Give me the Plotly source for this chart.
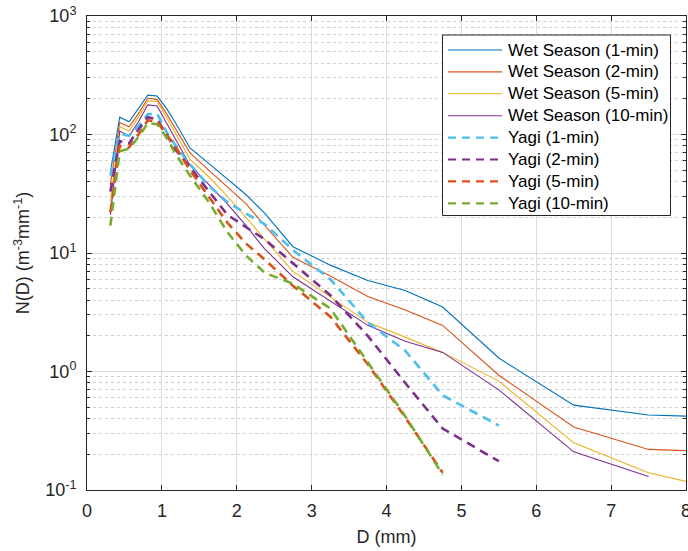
import plotly.graph_objects as go

D = [0.312, 0.437, 0.562, 0.687, 0.812, 0.937, 1.062, 1.187, 1.375, 1.625, 1.875,
     2.125, 2.375, 2.75, 3.25, 3.75, 4.25, 4.75, 5.5, 6.5, 7.5, 8.5]

wet_1min = [48, 140, 128, 165, 215, 211, 166, 124, 77, 57, 42, 31, 21.6, 11.3, 7.9, 5.86, 4.83, 3.5, 1.3, 0.52, 0.43, 0.41]
wet_2min = [38, 126, 116, 150, 202, 198, 150, 110, 70, 50, 36, 26, 17, 9.2, 6.4, 4.3, 3.3, 2.45, 0.93, 0.34, 0.22, 0.21]
wet_5min = [27, 116, 107, 140, 192, 190, 140, 100, 62, 44, 30, 20, 13, 7.0, 4.3, 2.6, 1.95, 1.45, 0.83, 0.25, 0.14, 0.10]
wet_10min = [21, 107, 97, 128, 178, 174, 125, 90, 55, 38, 26, 17, 10.8, 6.3, 3.9, 2.45, 1.8, 1.45, 0.7, 0.21, 0.13]

yagi_1min = [45, 100, 98, 118, 148, 150, 105, 80, 56, 37, 27, 21.5, 17.5, 10.6, 6.0, 2.6, 1.5, 0.63, 0.35]
yagi_2min = [33, 88, 84, 110, 140, 134, 100, 74, 53, 33, 21, 16.5, 13, 8.2, 4.4, 2.0, 0.8, 0.33, 0.175]
yagi_5min = [22, 80, 78, 100, 132, 128, 100, 78, 50, 30, 18, 12, 8.8, 5.3, 2.9, 1.15, 0.41, 0.14]
yagi_10min = [17, 72, 76, 95, 125, 122, 94, 68, 45, 27, 15, 9.5, 6.8, 5.5, 3.4, 1.2, 0.42, 0.135]

wet_names = ["Wet Season (1-min)", "Wet Season (2-min)", "Wet Season (5-min)", "Wet Season (10-min)"]
yagi_names = ["Yagi (1-min)", "Yagi (2-min)", "Yagi (5-min)", "Yagi (10-min)"]

x_ticks = [0, 1, 2, 3, 4, 5, 6, 7, 8]
y_ticks = [0.1, 1, 10, 100, 1000]
y_tick_text = ["10<sup>-1</sup>", "10<sup>0</sup>", "10<sup>1</sup>", "10<sup>2</sup>", "10<sup>3</sup>"]

wet_colors = ["#0072BD", "#D95319", "#EDB120", "#7E2F8E"]
yagi_colors = ["#4DBEEE", "#7E2F8E", "#D95319", "#77AC30"]
WET_W, YAGI_W, YAGI_DASH = 1.1, 2.6, "9px,6px"

fig = go.Figure()
for name, vals, c in zip(wet_names, [wet_1min, wet_2min, wet_5min, wet_10min], wet_colors):
    fig.add_trace(go.Scatter(x=D[:len(vals)], y=vals, mode="lines", name=name,
                             line=dict(color=c, width=WET_W), showlegend=False))
for name, vals, c in zip(yagi_names, [yagi_1min, yagi_2min, yagi_5min, yagi_10min], yagi_colors):
    fig.add_trace(go.Scatter(x=D[:len(vals)], y=vals, mode="lines", name=name,
                             line=dict(color=c, width=YAGI_W, dash=YAGI_DASH), showlegend=False))

minor_vals = []
for k in range(-1, 3):
    for m in range(2, 10):
        minor_vals.append(m * 10 ** k)

font_family = "Liberation Sans, Arial, sans-serif"
axis_color = "#262626"

# plot-area geometry in pixels (for legend placement)
W, H = 688, 551
ML, MR, MT, MB = 87, 2, 16, 61
PW, PH = W - ML - MR, H - MT - MB


def px(xp):
    return (xp - ML) / PW


def py(yp):
    return (H - MB - yp) / PH


# custom legend, MATLAB style
shapes = [dict(type="rect", xref="paper", yref="paper",
               x0=px(442.5), x1=px(670.5), y0=py(215.5), y1=py(35),
               fillcolor="white", line=dict(color=axis_color, width=1), layer="above")]
annotations = []
entries = ([(n, c, WET_W, "solid") for n, c in zip(wet_names, wet_colors)] +
           [(n, c, YAGI_W, YAGI_DASH) for n, c in zip(yagi_names, yagi_colors)])
for i, (name, col, w, dash) in enumerate(entries):
    yc = 50 + 21.9 * i
    shapes.append(dict(type="line", xref="paper", yref="paper",
                       x0=px(448), x1=px(502), y0=py(yc), y1=py(yc),
                       line=dict(color=col, width=w if dash == "solid" else 2.2,
                                 dash=dash if dash == "solid" else "8px,6px"),
                       layer="above"))
    annotations.append(dict(xref="paper", yref="paper", x=px(506), y=py(yc),
                            xanchor="left", yanchor="middle", text=name, showarrow=False,
                            font=dict(size=17, color="#000000", family=font_family)))

# the last x tick label (cut by the figure edge in the reference)
annotations.append(dict(xref="x", yref="paper", x=8, y=0, yshift=-9, xanchor="center",
                        yanchor="top", text="8", showarrow=False,
                        font=dict(size=18, color=axis_color, family=font_family)))

fig.update_layout(
    width=W, height=H,
    margin=dict(l=ML, r=MR, t=MT, b=MB),
    paper_bgcolor="white", plot_bgcolor="white",
    font=dict(family=font_family, size=18, color=axis_color),
    showlegend=False,
    shapes=shapes,
    annotations=annotations,
)
fig.update_xaxes(
    range=[0, 8], tickvals=x_ticks[:-1], ticktext=[str(v) for v in x_ticks[:-1]],
    showline=True, linecolor=axis_color, linewidth=1, mirror="ticks",
    ticks="inside", ticklen=5, tickcolor=axis_color, ticklabelstandoff=4,
    showgrid=True, gridcolor="#DCDCDC", gridwidth=1, zeroline=False,
    title=dict(text="D (mm)", standoff=10, font=dict(size=18)),
)
fig.update_yaxes(
    type="log", range=[-1, 3], tickvals=y_ticks, ticktext=y_tick_text,
    showline=True, linecolor=axis_color, linewidth=1, mirror="ticks",
    ticks="inside", ticklen=5, tickcolor=axis_color, ticklabelstandoff=6,
    showgrid=True, gridcolor="#DCDCDC", gridwidth=1, zeroline=False,
    minor=dict(tickvals=minor_vals, showgrid=True, gridcolor="#D0D0D0", griddash="dot",
               ticks="inside", ticklen=3, tickcolor=axis_color),
    title=dict(text="N(D) (m<sup>-3</sup>mm<sup>-1</sup>)", standoff=10, font=dict(size=18)),
)

fig.write_html("out.html")
